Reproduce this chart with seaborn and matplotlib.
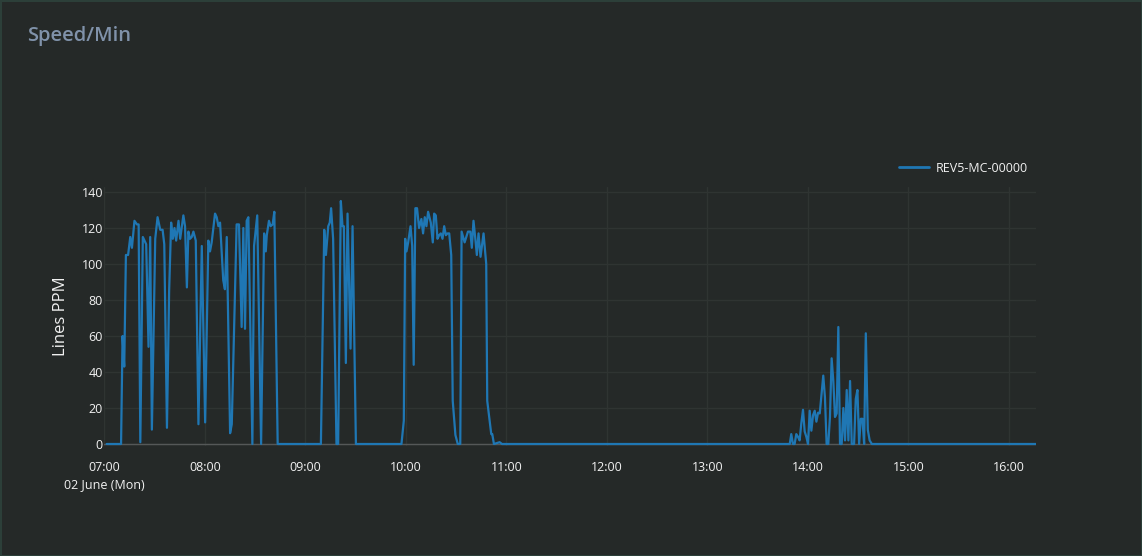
import pandas as pd
import numpy as np
import matplotlib
matplotlib.use('Agg')
import matplotlib.pyplot as plt
import matplotlib.dates as mdates
import seaborn as sns

# minutes after 07:00 on 02 June, and speed in lines per minute
minutes = [1.4, 10, 10.9, 11.9, 12.9, 14.2, 15.5, 16.5, 18, 19.5, 20.5, 21.5, 23, 25, 26.4, 27.4, 28.4,
           30.4, 31.8, 33.4, 34.8, 35.8, 37.4, 38.7, 39.9, 40.9, 41.9, 42.9, 44.3, 45.3, 47.2, 48.2,
           49.3, 50.2, 51.2, 52.2, 53.2, 54.6, 56.2, 58.2, 60.2, 62.1, 63.1, 64.1, 66.1, 67.1, 68.1,
           69.1, 71, 72, 73.1, 75.1, 76.1, 79, 80.4, 82, 83, 84, 85, 86, 88.4, 89.4, 91.3, 93.6, 95.4,
           96.4, 97, 98.3, 99.3, 100.5, 101.5, 103.5, 129.3, 131.3, 132.3, 133.7, 134.6, 135.4, 136.6,
           138.6, 139.6, 141.2, 142.2, 143, 144.2, 145.2, 147, 148.2, 150.2, 177.4, 178.8, 179.6,
           180.4, 181.4, 182.8, 183.8, 184.7, 185.7, 186.7, 187.9, 189.3, 190.3, 191.3, 192.3, 193.3,
           194.9, 196.1, 196.9, 197.9, 198.9, 199.9, 200.9, 201.9, 202.9, 203.9, 204.9, 205.9, 207.1,
           208, 209.6, 211, 212.5, 213.3, 215.1, 217.1, 218.5, 219.4, 220.4, 221.6, 222.4, 223.4,
           224.6, 226.4, 228, 228.6, 230, 231, 231.6, 232.6, 236, 237.4, 409.2, 410.1, 411.1, 412.1,
           413.1, 414.1, 415.1, 416.1, 417.1, 418.1, 419.1, 420.1, 421.1, 422.1, 423.1, 424.1, 425.1,
           426.1, 427.1, 428, 429.2, 430.2, 431.2, 432.2, 433.2, 434.2, 435.2, 436.2, 437.2, 438.2,
           439.2, 440.2, 441.2, 442.2, 443.2, 444.2, 445.2, 446.2, 447.6, 448.6, 449.6, 450.6, 451.6,
           452.6, 453.6, 454.6, 455.8, 456.9, 458.2, 556.2]
speed = [0, 0, 60, 43, 105, 105, 115, 109, 124, 122, 122, 1, 115, 111, 54, 115, 8,
         114, 126, 119, 119, 111, 9, 85, 123, 114, 120, 113, 124, 114, 127, 121,
         87, 118, 114, 115, 118, 113, 11, 110, 12, 113, 107, 112, 128, 126, 121,
         123, 91, 86, 115, 6, 11, 122, 122, 65, 120, 64, 124, 126, 0, 110, 127, 0, 117,
         107, 116, 124, 121, 122, 129, 0, 0, 119, 105, 121, 123, 131, 114,
         0, 0, 135, 121, 121, 45, 128, 53, 121, 0, 0, 13, 114,
         107, 112, 121, 110, 44, 131, 131, 120, 125, 117, 126, 121, 129,
         123, 112, 128, 127, 114, 116, 117, 114, 121, 116, 117, 117, 105,
         24, 5, 0, 0, 118, 112, 118, 118, 109, 124, 113, 105, 117,
         104, 117, 100, 24, 13, 5.5, 5.5, 0, 1, 0, 0, 5.5, 0, 0,
         5.5, 4, 2, 11.5, 19, 7, 4, 0, 18.5, 7.4, 16, 18.5, 12.4,
         17.4, 17, 26, 38, 26, 0, 0, 15, 47.6, 35, 15, 17, 65,
         0, 0, 20, 2, 30, 2, 35, 0, 0, 25, 30, 0, 14,
         14, 0, 61.5, 7.8, 2, 0, 0]
series_name = 'REV5-MC-00000'
start = pd.Timestamp('2025-06-02 07:00')
y_ticks = [0, 20, 40, 60, 80, 100, 120, 140]

df = pd.DataFrame({'time': start + pd.to_timedelta(minutes, unit='min'),
                   'speed': speed, 'machine': series_name})

bg = '#252928'
sns.set_theme(style='dark')
plt.rcParams['font.family'] = ['Open Sans', 'DejaVu Sans']

fig = plt.figure(figsize=(11.42, 5.56), dpi=100, facecolor=bg)
fig.patch.set_edgecolor('#2c3f39')
fig.patch.set_linewidth(2)
ax = fig.add_axes([104.3 / 1142, 1 - 445.8 / 556, (1036 - 104.3) / 1142, (445.8 - 186.6) / 556])
ax.set_facecolor(bg)

sns.lineplot(data=df, x='time', y='speed', hue='machine', palette=['#1f77b4'],
             linewidth=1.6, ax=ax, legend=False)

ax.set_xlim(start, df['time'].iloc[-1])
ax.set_ylim(-1, 143)
ax.set_yticks(y_ticks)
ax.axhline(0, color='#555858', linewidth=1, zorder=1)

ax.xaxis.set_major_locator(mdates.HourLocator())
def fmt(x, pos):
    d = mdates.num2date(x)
    lab = d.strftime('%H:%M')
    if d.hour == 7:
        lab += '\n02 June (Mon)'
    return lab
ax.xaxis.set_major_formatter(plt.FuncFormatter(fmt))

ax.grid(True, color='#2f3432', linewidth=1)
for s in ax.spines.values():
    s.set_visible(False)
ax.tick_params(axis='x', length=0, pad=11, colors='#f2f2f2', labelsize=9)
ax.tick_params(axis='y', length=0, pad=1, colors='#f2f2f2', labelsize=9)
for lab in ax.get_xticklabels():
    lab.set_linespacing(1.4)

ax.set_xlabel('')
ax.set_ylabel('Lines PPM', color='#f2f2f2', fontsize=12, labelpad=9)

fig.text(27 / 1142, 1 - 36 / 556, 'Speed/Min', color='#8092aa', fontsize=14.5,
         fontweight='semibold', va='center', ha='left')

handle = plt.Line2D([], [], color='#1f77b4', linewidth=2)
fig.legend([handle], [series_name], loc='center left', bbox_to_anchor=(888 / 1142, 1 - 168 / 556),
           frameon=False, fontsize=9, labelcolor='#f2f2f2', handlelength=2.4, handletextpad=0.5)

fig.savefig('out.png', dpi=100, facecolor=bg, edgecolor=fig.patch.get_edgecolor())
